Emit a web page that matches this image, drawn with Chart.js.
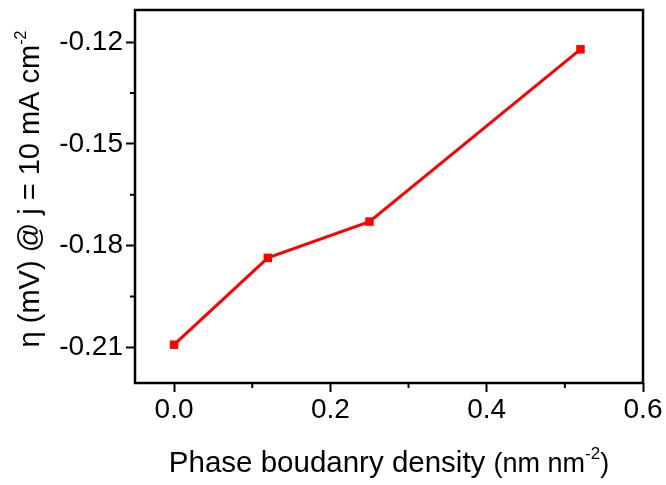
<!DOCTYPE html>
<html>
<head>
<meta charset="utf-8">
<script src="https://cdn.jsdelivr.net/npm/chart.js@4.4.1/dist/chart.umd.min.js"></script>
<style>
  html, body { margin: 0; padding: 0; background: #fff; }
  #wrap { width: 666px; height: 485px; }
</style>
</head>
<body>
<div id="wrap"><canvas id="chart" width="666" height="485"></canvas></div>
<script>
// data
const density = [0, 0.12, 0.25, 0.52];
const overpotential = [-0.2092, -0.1836, -0.1729, -0.1221];

const xTicks = [0, 0.2, 0.4, 0.6];
const xMinor = [0.1, 0.3, 0.5];
const yTicks = [-0.21, -0.18, -0.15, -0.12];
const yMinor = [-0.195, -0.165, -0.135];

const FONT = '"Liberation Sans", Arial, sans-serif';

// frame, minor ticks and the two axis titles (with superscripts)
const decor = {
  id: 'decor',
  afterDraw(chart) {
    const { ctx, chartArea: a, scales } = chart;
    ctx.save();
    ctx.strokeStyle = '#000';
    ctx.lineWidth = 2.5;
    ctx.strokeRect(a.left, a.top, a.right - a.left, a.bottom - a.top);

    ctx.lineWidth = 2;
    ctx.beginPath();
    xMinor.forEach(v => {
      const px = scales.x.getPixelForValue(v);
      ctx.moveTo(px, a.bottom);
      ctx.lineTo(px, a.bottom + 5);
    });
    yMinor.forEach(v => {
      const py = scales.y.getPixelForValue(v);
      ctx.moveTo(a.left, py);
      ctx.lineTo(a.left - 5, py);
    });
    ctx.stroke();

    ctx.fillStyle = '#000';
    ctx.textBaseline = 'alphabetic';
    ctx.textAlign = 'left';

    // x title
    const xParts = [
      ['Phase boudanry density ', 29.5, 0],
      ['(nm nm', 27, 0],
      ['-2', 17, -13],
      [')', 27, 0]
    ];
    let total = 0;
    xParts.forEach(p => { ctx.font = p[1] + 'px ' + FONT; total += ctx.measureText(p[0]).width; });
    let x = (a.left + a.right) / 2 - total / 2;
    xParts.forEach(p => {
      ctx.font = p[1] + 'px ' + FONT;
      ctx.fillText(p[0], x, 472 + p[2]);
      x += ctx.measureText(p[0]).width;
    });

    // y title
    const yParts = [
      ['\u03b7 (mV) @ j = 10 mA cm', 29, 0],
      ['-2', 16, -13]
    ];
    total = 0;
    yParts.forEach(p => { ctx.font = p[1] + 'px ' + FONT; total += ctx.measureText(p[0]).width; });
    ctx.translate(39, 189);
    ctx.rotate(-Math.PI / 2);
    x = -total / 2;
    yParts.forEach(p => {
      ctx.font = p[1] + 'px ' + FONT;
      ctx.fillText(p[0], x, p[2]);
      x += ctx.measureText(p[0]).width;
    });
    ctx.restore();
  }
};

new Chart(document.getElementById('chart'), {
  type: 'line',
  data: {
    labels: density,
    datasets: [{
      data: density.map((d, i) => ({ x: d, y: overpotential[i] })),
      borderColor: '#ff0000',
      backgroundColor: '#ff0000',
      borderWidth: 3,
      pointStyle: 'rect',
      pointRadius: 6,
      pointBorderWidth: 0,
      tension: 0
    }]
  },
  options: {
    responsive: false,
    animation: false,
    layout: { padding: { top: 10, right: 23, left: 0, bottom: 0 } },
    plugins: { legend: { display: false }, tooltip: { enabled: false } },
    scales: {
      x: {
        type: 'linear',
        min: -0.05,
        max: 0.6,
        afterBuildTicks: s => { s.ticks = xTicks.map(v => ({ value: v })); },
        afterFit: s => { s.height = 102; s.paddingLeft = 0; s.paddingRight = 0; },
        grid: { drawOnChartArea: false, tickLength: 9, tickWidth: 2, tickColor: '#000' },
        border: { display: false },
        ticks: {
          color: '#000',
          font: { family: FONT, size: 28 },
          padding: 1,
          maxRotation: 0,
          callback: v => v.toFixed(1)
        }
      },
      y: {
        type: 'linear',
        min: -0.2205,
        max: -0.1105,
        afterBuildTicks: s => { s.ticks = yTicks.map(v => ({ value: v })); },
        afterFit: s => { s.width = 135; s.paddingTop = 0; s.paddingBottom = 0; },
        grid: { drawOnChartArea: false, tickLength: 9, tickWidth: 2, tickColor: '#000' },
        border: { display: false },
        ticks: {
          color: '#000',
          font: { family: FONT, size: 28 },
          padding: 3,
          callback: v => v.toFixed(2)
        }
      }
    }
  },
  plugins: [decor]
});
</script>
</body>
</html>
